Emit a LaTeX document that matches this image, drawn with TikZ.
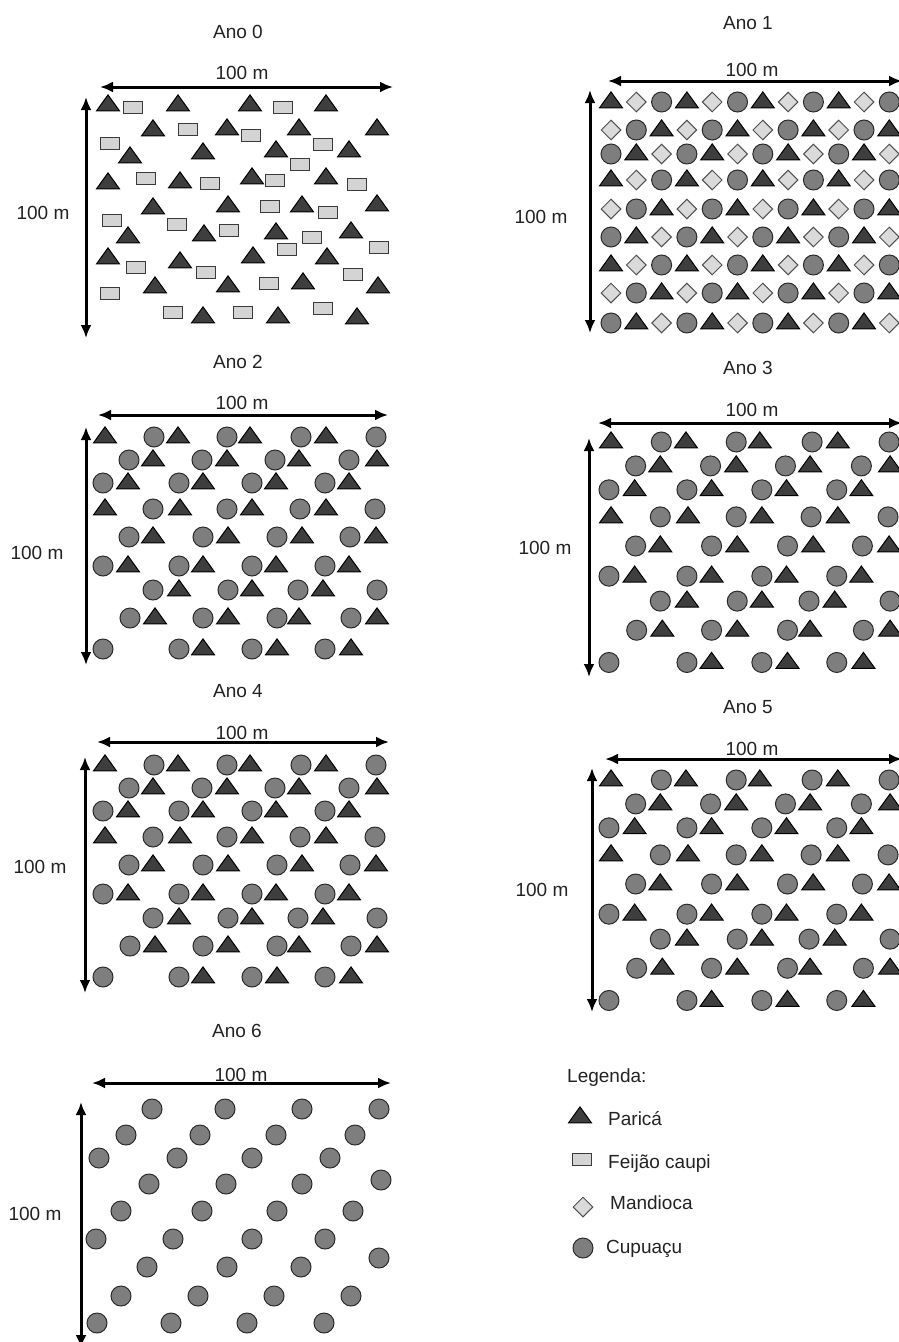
\documentclass[tikz,border=0pt]{standalone}
\usepackage{fontspec}
\setmainfont{Liberation Sans}
\usetikzlibrary{shapes.geometric,arrows.meta}
\definecolor{paricafill}{HTML}{3E3E3E}
\definecolor{cupuacufill}{HTML}{7E7E7E}
\definecolor{cupuaculine}{HTML}{2A2A2A}
\definecolor{mandiocafill}{HTML}{DADADA}
\definecolor{mandiocaline}{HTML}{505050}
\definecolor{feijaofill}{HTML}{D4D4D4}
\definecolor{feijaoline}{HTML}{3A3A3A}
\definecolor{inktext}{HTML}{222222}
\tikzset{
  plant/.style={inner sep=0pt,line width=1pt},
  parica/.style={plant,isosceles triangle,isosceles triangle stretches,
    shape border rotate=90,minimum width=23pt,minimum height=16pt,
    fill=paricafill,draw=black},
  feijao/.style={plant,rectangle,minimum width=19pt,minimum height=12pt,
    fill=feijaofill,draw=feijaoline},
  mandioca/.style={plant,diamond,minimum width=20pt,minimum height=20pt,
    fill=mandiocafill,draw=mandiocaline},
  cupuacu/.style={plant,circle,minimum size=20pt,fill=cupuacufill,draw=cupuaculine},
  kind0/.style={parica},
  kind1/.style={mandioca},
  kind2/.style={cupuacu},
  dimension/.style={{Latex[length=13pt,width=11pt]}-{Latex[length=13pt,width=11pt]},
    line width=3pt},
  yeartitle/.style={text=inktext,inner sep=1pt},
  measure/.style={text=inktext,inner sep=1pt},
  legendtext/.style={text=inktext,inner sep=0pt}
}

\begin{document}
\begin{tikzpicture}[x=1pt,y=-1pt,font=\fontsize{19}{22}\selectfont]
  \useasboundingbox (0,0) rectangle (899,1342);
  % titles and 100 m dimensions of every year
  \foreach \yr/\tx/\ty/\ly/\hy/\hw/\he/\vx/\vn/\vs/\sx/\sy in {
      0/238/32/73/87/100/393/86/97/338/43/213,
      1/748/23/70/81/608/902/590/90/333/541/217,
      2/238/362/403/415/98/388/86/427/665/37/553,
      3/748/368/410/423/598/902/589/438/677/545/548,
      4/238/691/733/742/97/389/85/757/993/40/867,
      5/748/707/749/759/605/902/592/768/1012/542/890,
      6/237/1031/1075/1083/92/391/81/1102/1348/35/1214} {
    \node[yeartitle] (title\yr) at (\tx,\ty) {Ano \yr};
    \coordinate (west\yr) at (\hw,\hy);
    \coordinate (east\yr) at (\he,\hy);
    \coordinate (north\yr) at (\vx,\vn);
    \coordinate (south\yr) at (\vx,\vs);
    \draw[dimension] (west\yr) -- (east\yr);
    \draw[dimension] (north\yr) -- (south\yr);
    \node[measure] (width\yr) at (\tx+4,\ly) {100 m};
    \node[measure] (height\yr) at (\sx,\sy) {100 m};
  }
  % Ano 0: parica and feijao caupi
  \foreach \x/\y [count=\i] in {108/105,178/105,250/105,326/105,153/130,227/129,
      299/129,377/129,349/151,130/157,203/153,276/151,108/183,180/182,252/178,
      326/178,153/208,228/206,302/206,377/205,128/237,204/235,276/233,351/232,
      108/258,180/262,253/257,327/258,155/287,228/286,303/283,378/287,203/317,
      278/317,357/318}
    \node[parica] (par0-\i) at (\x,\y) {};
  \foreach \x/\y [count=\i] in {133/107,283/107,188/129,251/135,110/143,323/144,
      300/164,146/178,210/183,275/180,357/184,270/206,328/212,112/220,177/224,
      229/230,312/237,287/249,379/247,136/267,206/272,353/274,110/293,269/283,
      173/312,243/312,323/308}
    \node[feijao] (fei0-\i) at (\x,\y) {};
  % Ano 1: parica, mandioca and cupuacu in rows
  \foreach \y [count=\r from 0] in {102,130,154,180,209,237,265,293,323}
    \foreach \c in {0,...,11} {
      \pgfmathtruncatemacro{\kind}{mod(\c+\r,3)}
      \node[kind\kind] (mix-\r-\c) at (611+25.3*\c,\y) {};
    }
  % Anos 2 to 5: parica and cupuacu
  \foreach \yr/\sx/\sy/\fx/\fy in {2/0/437/1/1,4/0/765/1/1,
      3/503.3/442/1.026/1.04,5/503.3/780/1.026/1.04} {
    \begin{scope}[shift={(\sx,\sy)},xscale=\fx,yscale=\fy]
      \foreach \dy/\cups/\paris [count=\r] in {
          0/{154,227,301,376}/{105,178,250,326},
          23/{129,202,275,349}/{153,227,299,377},
          46/{103,179,252,325}/{128,203,276,349},
          72/{153,227,300,375}/{105,180,252,326},
          100/{129,203,277,350}/{153,228,302,376},
          129/{103,179,252,325}/{128,203,276,349},
          153/{153,228,298,377}/{179,252,323},
          181/{130,203,277,351}/{155,228,299,377},
          212/{103,179,252,325}/{203,277,351}} {
        \foreach \x [count=\i] in \cups
          \node[cupuacu] (cup\yr-\r-\i) at (\x,\dy) {};
        \foreach \x [count=\i] in \paris
          \node[parica] (par\yr-\r-\i) at (\x,\dy) {};
      }
    \end{scope}
  }
  % Ano 6: cupuacu only
  \foreach \x/\y [count=\i] in {152/1109,225/1109,302/1109,379/1109,
      126/1135,200/1135,276/1135,355/1135,99/1158,177/1158,252/1158,330/1158,
      149/1184,226/1184,302/1184,381/1180,121/1211,202/1211,277/1211,353/1211,
      96/1239,173/1239,252/1239,325/1239,147/1267,227/1267,301/1267,379/1258,
      121/1296,198/1296,274/1296,351/1296,97/1323,171/1323,247/1323,324/1323}
    \node[cupuacu] (cup6-\i) at (\x,\y) {};
  % legend
  \node[legendtext,anchor=base west] (legenda) at (567,1082) {Legenda:};
  \node[parica] (keyparica) at (580,1117) {};
  \node[legendtext,anchor=base west] (txtparica) at (608,1125) {Paricá};
  \node[feijao] (keyfeijao) at (582,1159) {};
  \node[legendtext,anchor=base west] (txtfeijao) at (608,1168) {Feijão caupi};
  \node[mandioca] (keymandioca) at (583,1207) {};
  \node[legendtext,anchor=base west] (txtmandioca) at (610,1209) {Mandioca};
  \node[cupuacu] (keycupuacu) at (583,1248) {};
  \node[legendtext,anchor=base west] (txtcupuacu) at (606,1253) {Cupuaçu};
\end{tikzpicture}
\end{document}
